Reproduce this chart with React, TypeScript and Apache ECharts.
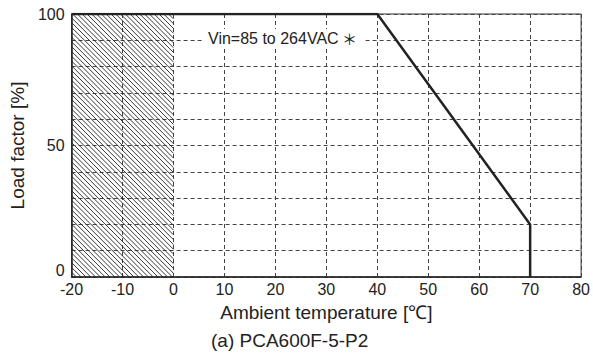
import React, { useEffect, useRef } from "react";
import * as echarts from "echarts";

const curveX = [-20, 40, 70, 70];
const curveY = [100, 100, 20, 0];
const hatchRange = [-20, 0];
const loadRange = [0, 100];
const xTicks = [-20, -10, 0, 10, 20, 30, 40, 50, 60, 70, 80];
const yLabelTicks = [0, 50, 100];
const noteText = "Vin=85 to 264VAC";
const noteMark = "＊";
const subtitle = "(a) PCA600F-5-P2";

const FONT = "'Liberation Sans', Arial, sans-serif";

export default function App() {
  const ref = useRef<HTMLDivElement>(null);
  useEffect(() => {
    if (!ref.current) return;
    const chart = echarts.init(ref.current, undefined, { renderer: "svg" });
    const lineData = curveX.map((x, i) => [x, curveY[i]]);
    chart.setOption({
      animation: false,
      backgroundColor: "#ffffff",
      grid: {
        left: 68,
        right: 10,
        top: 14,
        bottom: 80,
        show: true,
        borderColor: "#333",
        borderWidth: 1,
      },
      xAxis: {
        type: "value",
        min: xTicks[0],
        max: xTicks[xTicks.length - 1],
        interval: 10,
        name: "Ambient temperature [\u2103]",
        nameLocation: "middle",
        nameGap: 26,
        nameTextStyle: { fontFamily: FONT, fontSize: 19, color: "#222" },
        axisLine: { show: true, onZero: false, lineStyle: { color: "#222", width: 1.5 } },
        axisTick: { show: false },
        axisLabel: { fontFamily: FONT, fontSize: 16, color: "#222", margin: 4 },
        splitLine: { show: true, lineStyle: { color: "#444", type: [4, 3], width: 1 } },
      },
      yAxis: {
        type: "value",
        min: 0,
        max: 100,
        interval: 10,
        name: "Load factor [%]",
        nameLocation: "middle",
        nameGap: 42,
        nameTextStyle: { fontFamily: FONT, fontSize: 19, color: "#222" },
        axisLine: { show: true, onZero: false, lineStyle: { color: "#222", width: 1.5 } },
        axisTick: { show: false },
        axisLabel: {
          fontFamily: FONT,
          fontSize: 16,
          color: "#222",
          margin: 7,
          formatter: (v: number) =>
            v === yLabelTicks[0] ? "{low|" + v + "}" : yLabelTicks.includes(v) ? String(v) : "",
          rich: {
            low: { fontFamily: FONT, fontSize: 16, color: "#222", padding: [0, 0, 14, 0] },
          },
        },
        splitLine: { show: true, lineStyle: { color: "#444", type: [4, 3], width: 1 } },
      },
      series: [
        {
          type: "custom",
          clip: true,
          silent: true,
          z: 1,
          data: [[hatchRange[0], hatchRange[1], loadRange[0], loadRange[1]]],
          encode: { x: [0, 1], y: [2, 3] },
          renderItem: (params: any, api: any) => {
            const tl = api.coord([api.value(0), api.value(3)]);
            const br = api.coord([api.value(1), api.value(2)]);
            const x0 = tl[0], y0 = tl[1], x1 = br[0], y1 = br[1];
            const step = 4.8;
            const children: any[] = [];
            for (let c = x0 - y1; c <= x1 - y0; c += step) {
              const sx = Math.max(x0, c + y0);
              const ex = Math.min(x1, c + y1);
              if (ex <= sx) continue;
              children.push({
                type: "line",
                shape: { x1: sx, y1: sx - c, x2: ex, y2: ex - c },
                style: { stroke: "#222", lineWidth: 0.9 },
              });
            }
            return { type: "group", children };
          },
        },
        {
          type: "line",
          data: lineData,
          symbol: "none",
          z: 5,
          lineStyle: { color: "#222", width: 2.5 },
        },
      ],
      graphic: [
        {
          type: "text",
          left: 202,
          top: 29,
          z: 10,
          style: {
            text: "{t|" + noteText + "} {m|" + noteMark + "}",
            backgroundColor: "#fff",
            padding: [1, 8, 1, 6],
            rich: {
              t: { fontFamily: FONT, fontSize: 16, fill: "#222" },
              m: { fontFamily: "'Noto Sans CJK JP', sans-serif", fontSize: 15, fill: "#222" },
            },
          },
        },
        {
          type: "text",
          left: 211,
          top: 331,
          style: {
            text: subtitle,
            fontFamily: FONT,
            fontSize: 19,
            fill: "#222",
          },
        },
      ],
    });
    return () => chart.dispose();
  }, []);
  return (
    <div
      ref={ref}
      style={{ position: "fixed", left: 0, top: 0, width: 593, height: 357 }}
    />
  );
}
